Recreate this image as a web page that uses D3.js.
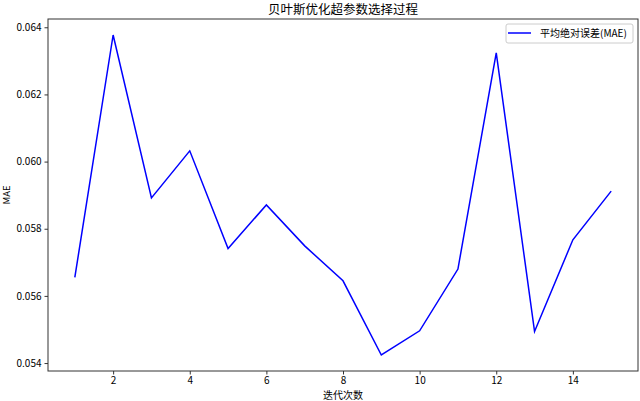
<!DOCTYPE html>
<html>
<head>
<meta charset="utf-8">
<script src="https://cdn.jsdelivr.net/npm/d3@7"></script>
<style>
  body { margin: 0; background: #fff; }
  svg { display: block; }
  text { font-family: "Noto Sans CJK SC", "DejaVu Sans", sans-serif; fill: #000; }
</style>
</head>
<body>
<svg id="chart" width="640" height="401"></svg>
<script>
const iterations = [1, 2, 3, 4, 5, 6, 7, 8, 9, 10, 11, 12, 13, 14, 15];
const maeValues = [0.05655, 0.06377, 0.05892, 0.06032, 0.05741, 0.05871, 0.05749, 0.05645, 0.05424, 0.05496, 0.05680, 0.06324, 0.05494, 0.05767, 0.05912];
const xTicks = [2, 4, 6, 8, 10, 12, 14];
const yTicks = [0.054, 0.056, 0.058, 0.060, 0.062, 0.064];
const titleText = "贝叶斯优化超参数选择过程";
const xLabel = "迭代次数";
const yLabel = "MAE";
const seriesName = "平均绝对误差(MAE)";

const svg = d3.select("#chart");
const margin = { left: 48, top: 19, right: 2, bottom: 30 };
const W = 640, H = 401;
const x0 = margin.left, x1 = W - margin.right, y0 = margin.top, y1 = H - margin.bottom;

const xmin = d3.min(iterations), xmax = d3.max(iterations);
const xpad = (xmax - xmin) * 0.05;
const x = d3.scaleLinear().domain([xmin - xpad, xmax + xpad]).range([x0, x1]);
const ymin = d3.min(maeValues), ymax = d3.max(maeValues);
const ypad = (ymax - ymin) * 0.05;
const y = d3.scaleLinear().domain([ymin - ypad, ymax + ypad]).range([y1, y0]);

// line
const line = d3.line().x((d, i) => x(iterations[i])).y(d => y(d));
svg.append("path")
  .datum(maeValues)
  .attr("d", line)
  .attr("fill", "none")
  .attr("stroke", "#0000ff")
  .attr("stroke-width", 1.5)
  .attr("stroke-linejoin", "miter");

// axes
const xAxis = d3.axisBottom(x).tickValues(xTicks).tickSize(3.5).tickPadding(2.5).tickFormat(d3.format("d"));
const yAxis = d3.axisLeft(y).tickValues(yTicks).tickSize(3.5).tickPadding(3).tickFormat(d3.format(".3f"));

const gx = svg.append("g").attr("transform", `translate(0,${y1})`).call(xAxis);
const gy = svg.append("g").attr("transform", `translate(${x0},0)`).call(yAxis);
[gx, gy].forEach(g => {
  g.select(".domain").remove();
  g.selectAll(".tick line").attr("stroke", "#000").attr("stroke-width", 0.8);
  g.selectAll(".tick text").attr("font-size", 10).attr("fill", "#000")
    .style("font-family", '"Noto Sans CJK SC", sans-serif');
});

// frame
svg.append("rect")
  .attr("x", x0).attr("y", y0)
  .attr("width", x1 - x0).attr("height", y1 - y0)
  .attr("fill", "none").attr("stroke", "#333").attr("stroke-width", 1);

// title
svg.append("text")
  .attr("x", (x0 + x1) / 2).attr("y", 14)
  .attr("text-anchor", "middle")
  .attr("font-size", 12.5)
  .text(titleText);

// axis labels
svg.append("text")
  .attr("x", (x0 + x1) / 2).attr("y", 398.5)
  .attr("text-anchor", "middle")
  .attr("font-size", 10)
  .text(xLabel);

svg.append("text")
  .attr("transform", `translate(10,${(y0 + y1) / 2}) rotate(-90)`)
  .attr("text-anchor", "middle")
  .attr("font-size", 9.5)
  .text(yLabel);

// legend
const lg = svg.append("g");
lg.append("rect")
  .attr("x", 506).attr("y", 24).attr("width", 127).attr("height", 19)
  .attr("rx", 2)
  .attr("fill", "#fff").attr("fill-opacity", 0.8)
  .attr("stroke", "#ccc").attr("stroke-width", 1);
lg.append("line")
  .attr("x1", 508).attr("x2", 531).attr("y1", 33).attr("y2", 33)
  .attr("stroke", "#0000ff").attr("stroke-width", 1.5);
lg.append("text")
  .attr("x", 540).attr("y", 37)
  .attr("font-size", 10)
  .text(seriesName);
</script>
</body>
</html>
